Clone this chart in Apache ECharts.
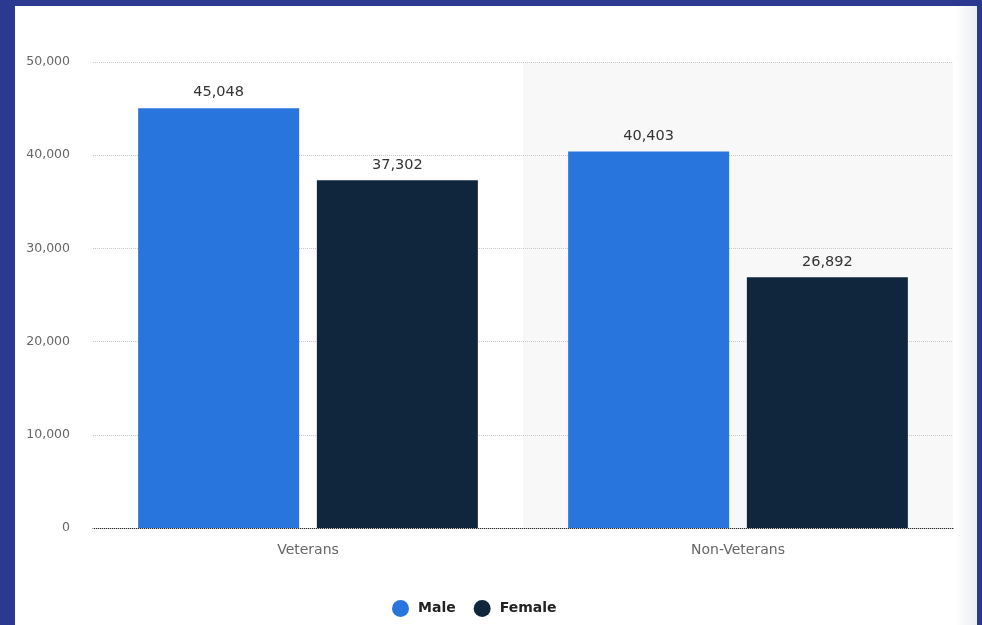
<!DOCTYPE html>
<html>
<head>
<meta charset="utf-8">
<script src="https://cdn.jsdelivr.net/npm/echarts@6/dist/echarts.min.js"></script>
<style>
  html, body { margin: 0; padding: 0; background: #2b3990; width: 982px; height: 625px; overflow: hidden; }
  #card { position: absolute; left: 15px; top: 6px; width: 962px; height: 619px; background: #fff; }
  #shade { position: absolute; right: 0; top: 0; width: 22px; height: 100%;
           background: linear-gradient(to right, rgba(240,242,247,0), #eceef4); }
  #chart { position: absolute; left: 0; top: 0; width: 962px; height: 619px; }
</style>
</head>
<body>
<div id="card"><div id="shade"></div><div id="chart"></div></div>
<script>
const categories = ["Veterans", "Non-Veterans"];
const maleValues = [45048, 40403];
const femaleValues = [37302, 26892];
const seriesNames = ["Male", "Female"];

const chart = echarts.init(document.getElementById("chart"));
const font = "DejaVu Sans";

const labelOpt = {
  show: true,
  position: "top",
  distance: 8,
  color: "#333",
  fontSize: 14.5,
  fontFamily: font,
  formatter: (p) => p.value.toLocaleString("en-US")
};

chart.setOption({
  animation: false,
  textStyle: { fontFamily: font },
  grid: { left: 78, right: 24, top: 56, bottom: 97, containLabel: false },
  legend: {
    bottom: 3,
    left: 372,
    icon: "circle",
    itemWidth: 17,
    itemHeight: 17,
    itemGap: 18,
    textStyle: { fontSize: 14, color: "#222", fontFamily: font, fontWeight: "bold", padding: [0, 0, 0, 4] },
    data: seriesNames
  },
  xAxis: {
    type: "category",
    z: -1,
    data: categories,
    axisLine: { lineStyle: { color: "#222", width: 1 } },
    axisTick: { show: false },
    axisLabel: { color: "#666", fontSize: 14, margin: 15, fontFamily: font },
    splitArea: { show: true, areaStyle: { color: ["rgba(255,255,255,0)", "#f8f8f8"] } }
  },
  yAxis: {
    type: "value",
    min: 0,
    max: 50000,
    interval: 10000,
    axisLine: { show: false },
    axisTick: { show: false },
    axisLabel: {
      color: "#666", fontSize: 12.5, margin: 23, fontFamily: font,
      formatter: (v) => v.toLocaleString("en-US")
    },
    splitLine: { lineStyle: { color: "#c8c8c8", type: "dotted" } }
  },
  series: [
    {
      name: seriesNames[0],
      type: "bar",
      data: maleValues,
      barWidth: 161,
      barGap: "11%",
      itemStyle: { color: "#2876dd" },
      label: labelOpt
    },
    {
      name: seriesNames[1],
      type: "bar",
      data: femaleValues,
      barWidth: 161,
      itemStyle: { color: "#10263d" },
      label: labelOpt
    }
  ]
});
</script>
</body>
</html>
